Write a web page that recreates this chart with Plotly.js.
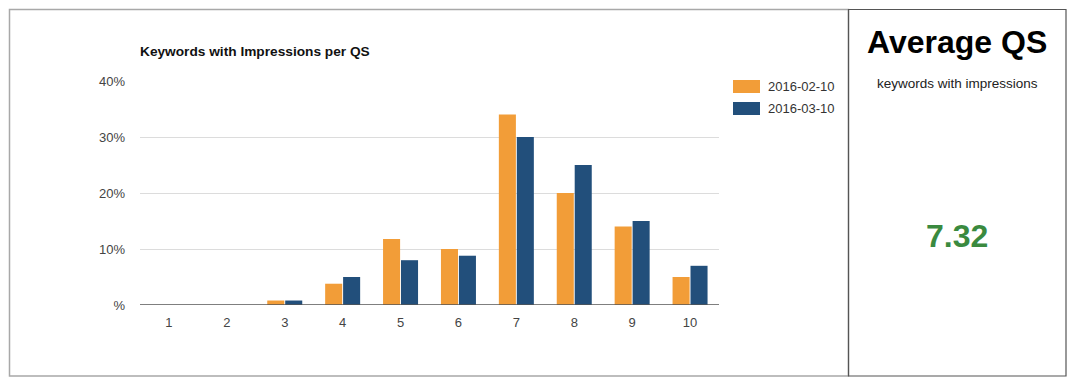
<!DOCTYPE html>
<html>
<head>
<meta charset="utf-8">
<script src="https://cdn.plot.ly/plotly-3.0.1.min.js"></script>
<style>
  html, body { margin: 0; padding: 0; background: #ffffff; }
  #chart { width: 1080px; height: 389px; }
</style>
</head>
<body>
<div id="chart"></div>
<script>
// ---- data ----
const categories = [1, 2, 3, 4, 5, 6, 7, 8, 9, 10];
const seriesNames = ["2016-02-10", "2016-03-10"];
const seriesColors = ["#f29d38", "#224f7b"];
const valuesFeb = [0, 0, 0.8, 3.8, 11.8, 10, 34, 20, 14, 5];
const valuesMar = [0, 0, 0.8, 5, 8, 8.8, 30, 25, 15, 7];
const yTickVals = [0, 10, 20, 30, 40];
const yTickText = ["%", "10%", "20%", "30%", "40%"];
const chartTitle = "Keywords with Impressions per QS";
const kpiTitle = "Average QS";
const kpiSubtitle = "keywords with impressions";
const kpiValue = "7.32";

// ---- layout geometry (pixels) ----
const W = 1080, H = 389;
const L = 140, R = 719, T = 81, B = 305;
const pw = R - L, ph = B - T;
const px = x => (x - L) / pw;
const py = y => (B - y) / ph;

const font = "Arial, 'Liberation Sans', sans-serif";

const traces = [
  { type: "bar", name: seriesNames[0], x: categories, y: valuesFeb,
    marker: { color: seriesColors[0] } },
  { type: "bar", name: seriesNames[1], x: categories, y: valuesMar,
    marker: { color: seriesColors[1] } }
];

// manual legend (wide swatches like the reference)
const legendShapes = [];
const legendAnns = [];
seriesNames.forEach((name, i) => {
  const top = 80 + i * 22;
  legendShapes.push({ type: "rect", xref: "paper", yref: "paper",
    x0: px(733), x1: px(760), y0: py(top + 13), y1: py(top),
    fillcolor: seriesColors[i], line: { width: 0 } });
  legendAnns.push({ xref: "paper", yref: "paper", x: px(766), y: py(top + 6.5),
    text: name, showarrow: false, xanchor: "left", yanchor: "middle",
    font: { family: font, size: 13, color: "#333" } });
});

const layout = {
  width: W, height: H,
  margin: { l: L, r: W - R, t: T, b: H - B, pad: 0 },
  paper_bgcolor: "#ffffff", plot_bgcolor: "#ffffff",
  font: { family: font, size: 13, color: "#444" },
  barmode: "group", bargap: 0.38, bargroupgap: 0.05,
  showlegend: false,
  title: {
    text: "<b>" + chartTitle + "</b>",
    font: { family: font, size: 13.7, color: "#111" },
    xref: "paper", x: 0, xanchor: "left",
    yref: "container", y: 1 - 51 / H, yanchor: "middle"
  },
  xaxis: {
    range: [0.5, 10.5], tickvals: categories, ticks: "", showgrid: false,
    zeroline: false, showline: false, fixedrange: true, ticklabelstandoff: 8,
    tickfont: { family: font, size: 13, color: "#444" }
  },
  yaxis: {
    range: [0, 40], tickvals: yTickVals, ticktext: yTickText,
    showgrid: true, gridcolor: "#dcdcdc", gridwidth: 1,
    zeroline: false, showline: false, ticks: "", ticklabelstandoff: 14,
    tickfont: { family: font, size: 13, color: "#444" }, fixedrange: true
  },
  shapes: [
    // baseline
    { type: "line", xref: "paper", yref: "y", x0: 0, x1: 1, y0: 0, y1: 0,
      line: { color: "#555", width: 1.5 } },
    // left panel border
    { type: "rect", xref: "paper", yref: "paper", x0: px(9.5), x1: px(848.5), y0: py(376), y1: py(9.5),
      line: { color: "#a8a8a8", width: 1.5 } },
    // right panel border
    { type: "rect", xref: "paper", yref: "paper", x0: px(848.5), x1: px(1066), y0: py(376), y1: py(9.5),
      line: { color: "#555", width: 1.2 } }
  ].concat(legendShapes),
  annotations: [
    { xref: "paper", yref: "paper", x: px(957), y: py(42), text: "<b>" + kpiTitle + "</b>",
      showarrow: false, xanchor: "center", yanchor: "middle",
      font: { family: font, size: 32, color: "#000" } },
    { xref: "paper", yref: "paper", x: px(957), y: py(83), text: kpiSubtitle,
      showarrow: false, xanchor: "center", yanchor: "middle",
      font: { family: font, size: 13.5, color: "#222" } },
    { xref: "paper", yref: "paper", x: px(957), y: py(236), text: "<b>" + kpiValue + "</b>",
      showarrow: false, xanchor: "center", yanchor: "middle",
      font: { family: font, size: 32, color: "#3a8a3f" } }
  ].concat(legendAnns)
};

Plotly.newPlot("chart", traces, layout, { displayModeBar: false, staticPlot: true });
</script>
</body>
</html>
